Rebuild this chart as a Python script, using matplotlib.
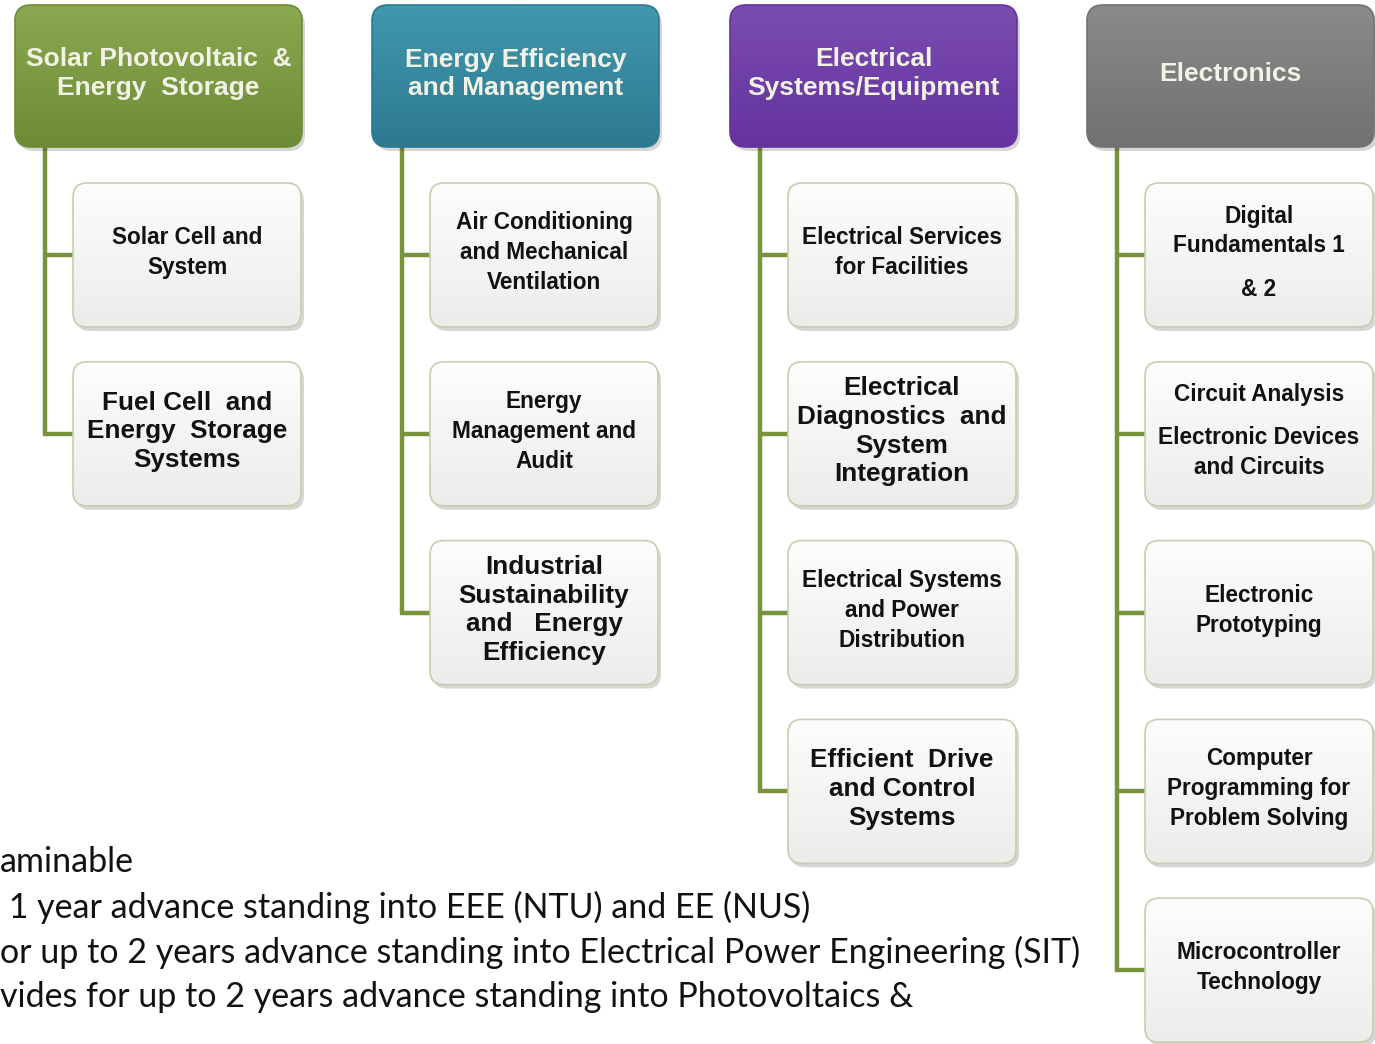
import numpy as np
import matplotlib.pyplot as plt
from matplotlib.patches import FancyBboxPatch
from matplotlib.colors import to_rgb

# --- content ---
headers = ["Solar Photovoltaic  &\nEnergy  Storage",
           "Energy Efficiency\nand Management",
           "Electrical\nSystems/Equipment",
           "Electronics"]
header_top = ["#8BA851", "#4197AE", "#7B4CB0", "#8A8A8A"]
header_bot = ["#6D8A35", "#2D7A90", "#6433A0", "#717171"]

solar_courses = ["Solar Cell and\nSystem",
                 "Fuel Cell  and\nEnergy  Storage\nSystems"]
efficiency_courses = ["Air Conditioning\nand Mechanical\nVentilation",
                      "Energy\nManagement and\nAudit",
                      "Industrial\nSustainability\nand   Energy\nEfficiency"]
electrical_courses = ["Electrical Services\nfor Facilities",
                      "Electrical\nDiagnostics  and\nSystem\nIntegration",
                      "Electrical Systems\nand Power\nDistribution",
                      "Efficient  Drive\nand Control\nSystems"]
electronics_courses = ["Digital\nFundamentals 1\n\n& 2",
                       "Circuit Analysis\n\nElectronic Devices\nand Circuits",
                       "Electronic\nPrototyping",
                       "Computer\nProgramming for\nProblem Solving",
                       "Microcontroller\nTechnology"]
courses = [solar_courses, efficiency_courses, electrical_courses, electronics_courses]

# courses printed in the larger type
big_text = ["Fuel Cell  and\nEnergy  Storage\nSystems",
            "Industrial\nSustainability\nand   Energy\nEfficiency",
            "Electrical\nDiagnostics  and\nSystem\nIntegration",
            "Efficient  Drive\nand Control\nSystems"]

notes = ["aminable",
         " 1 year advance standing into EEE (NTU) and EE (NUS)",
         "or up to 2 years advance standing into Electrical Power Engineering (SIT)",
         "vides for up to 2 years advance standing into Photovoltaics &"]

# --- layout (pixel units) ---
W, H = 1375, 1044
col_x = [15, 372, 730, 1087]
head_w, head_top, head_h = 287, 5, 142
child_dx, child_w, child_h = 58, 228, 144
row_top, row_step = 183, 178.8
trunk_dx = 30
line_col = "#77933C"

fig = plt.figure(figsize=(W / 100, H / 100), dpi=100)
ax = fig.add_axes([0, 0, 1, 1])
ax.axis("off")


def grad_box(x, y, w, h, c_top, c_bot, edge, r, z):
    sh = FancyBboxPatch((x + 3, y + 4), w, h, boxstyle=f"round,pad=0,rounding_size={r}",
                        fc="#000000", ec="none", alpha=0.16, zorder=z - 0.2)
    ax.add_patch(sh)
    box = FancyBboxPatch((x, y), w, h, boxstyle=f"round,pad=0,rounding_size={r}",
                         fc="none", ec=edge, lw=1.2, zorder=z + 0.1)
    ax.add_patch(box)
    t = np.linspace(0, 1, 64)[:, None, None]
    img = (1 - t) * np.array(to_rgb(c_top)) + t * np.array(to_rgb(c_bot))
    im = ax.imshow(img, extent=[x, x + w, y + h, y], origin="upper",
                   aspect="auto", zorder=z, interpolation="bilinear")
    clip = FancyBboxPatch((x, y), w, h, boxstyle=f"round,pad=0,rounding_size={r}",
                          fc="none", ec="none", transform=ax.transData)
    ax.add_patch(clip)
    im.set_clip_path(clip)


def stacked_text(cx, cy, txt, size, pitch, color, z):
    blocks = txt.split("\n\n")
    ys, y = [], 0.0
    lines = []
    for bi, b in enumerate(blocks):
        if bi > 0:
            y += 13
        for li, ln in enumerate(b.split("\n")):
            if lines:
                y += pitch
            ys.append(y)
            lines.append(ln)
    off = cy - (ys[0] + ys[-1]) / 2
    for ln, yy in zip(lines, ys):
        ax.text(cx, yy + off, ln, ha="center", va="center", fontsize=size,
                fontweight="bold", family="Liberation Sans", color=color, zorder=z)


# footnote text (sits behind the chart)
for i, ln in enumerate(notes):
    ax.text(0, 862 + i * 45, ln, ha="left", va="center", fontsize=24.5,
            family="Lato", color="#111111", zorder=1)

for c, (hx, title) in enumerate(zip(col_x, headers)):
    # header
    grad_box(hx, head_top, head_w, head_h, header_top[c], header_bot[c],
             header_bot[c], 16, 3)
    stacked_text(hx + head_w / 2, head_top + head_h / 2 - 2, title, 19, 29,
                 "#F2F2E6", 5)

    # connectors
    tx = hx + trunk_dx
    mids = [row_top + i * row_step + child_h / 2 for i in range(len(courses[c]))]
    ax.plot([tx, tx], [head_top + head_h, mids[-1] + 1.5], color=line_col,
            lw=3.2, solid_capstyle="butt", zorder=2)
    for m in mids:
        ax.plot([tx - 1.5, hx + child_dx], [m, m], color=line_col, lw=3.2,
                solid_capstyle="butt", zorder=2)

    # course boxes
    for i, name in enumerate(courses[c]):
        bx = hx + child_dx
        by = row_top + i * row_step
        grad_box(bx, by, child_w, child_h, "#FDFDFD", "#ECECEA", "#C5CFAE", 14, 3)
        big = name in big_text
        stacked_text(bx + child_w / 2, by + child_h / 2 - 2.5, name,
                     18.8 if big else 16.3, 28.7 if big else 30, "#111111", 5)

ax.set_xlim(0, W)
ax.set_ylim(H, 0)
fig.savefig("out.png", dpi=100, facecolor="white")
